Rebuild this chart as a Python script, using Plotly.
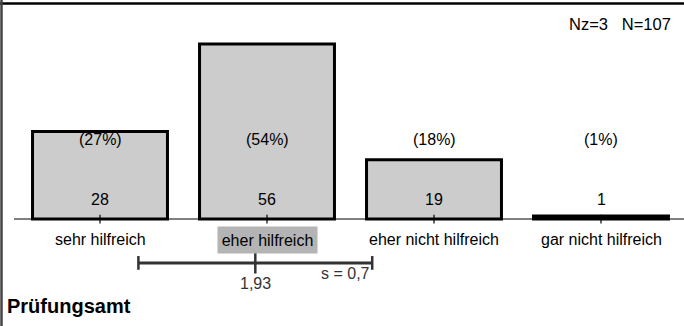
import plotly.graph_objects as go

# Response categories and counts
categories = ["sehr hilfreich", "eher hilfreich", "eher nicht hilfreich", "gar nicht hilfreich"]
counts = [28, 56, 19, 1]
percent_labels = ["(27%)", "(54%)", "(18%)", "(1%)"]
positions = [1, 2, 3, 4]

mean_value = 1.93
std_value = 0.7
mean_label = "1,93"
std_label = "s = 0,7"
n_missing = 3
n_total = 107
title = "Prüfungsamt"

W, H = 684, 326
X_RANGE = [0.4012, 4.497]
Y_RANGE = [-34.24, 70.08]
FAMILY = "Liberation Sans, Arial, sans-serif"

fig = go.Figure()

fig.add_trace(go.Bar(
    x=positions, y=counts, width=0.808,
    marker=dict(color="#cccccc", line=dict(color="black", width=3)),
    hoverinfo="skip",
))

# baseline
fig.add_shape(type="line", xref="x", yref="y", x0=0.485, x1=X_RANGE[1], y0=0, y1=0,
              line=dict(color="black", width=1.2), layer="below")
# category ticks
for p in positions:
    fig.add_shape(type="line", xref="x", yref="y", x0=p, x1=p, y0=-1.4, y1=1.4,
                  line=dict(color="black", width=1.2))

# frame lines
fig.add_shape(type="line", xref="paper", yref="paper", x0=0, x1=1, y0=1 - 3.5 / H, y1=1 - 3.5 / H,
              line=dict(color="black", width=2.5))
fig.add_shape(type="line", xref="paper", yref="paper", x0=1.5 / W, x1=1.5 / W, y0=0, y1=1,
              line=dict(color="#444444", width=2.5))

font = dict(family=FAMILY, size=16, color="black")
grey_font = dict(family=FAMILY, size=16, color="#333333")

for p, c, pl, cat in zip(positions, counts, percent_labels, categories):
    fig.add_annotation(x=p, y=25.3, text=pl, showarrow=False, font=font, xanchor="center", yanchor="middle")
    fig.add_annotation(x=p, y=6.1, text=str(c), showarrow=False, font=font, xanchor="center", yanchor="middle")
    if cat == "eher hilfreich":
        fig.add_annotation(x=p, y=-6.7, text=cat, showarrow=False, font=font, xanchor="center",
                           yanchor="middle", bgcolor="#b4b4b4", width=97, height=24, borderpad=1)
    else:
        fig.add_annotation(x=p, y=-6.7, text=cat, showarrow=False, font=font, xanchor="center",
                           yanchor="middle")

# mean and standard deviation bar
y_sd = -14.05
lo, hi = mean_value - std_value, mean_value + std_value
fig.add_shape(type="line", xref="x", yref="y", x0=lo, x1=hi, y0=y_sd, y1=y_sd,
              line=dict(color="#333333", width=3))
for xv in (lo, hi):
    fig.add_shape(type="line", xref="x", yref="y", x0=xv, x1=xv, y0=y_sd - 2.2, y1=y_sd + 2.2,
                  line=dict(color="#333333", width=2.5))
fig.add_shape(type="line", xref="x", yref="y", x0=mean_value, x1=mean_value, y0=y_sd - 3.4, y1=y_sd + 3.4,
              line=dict(color="#333333", width=2.5))
fig.add_annotation(x=mean_value, y=-20.6, text=mean_label, showarrow=False, font=grey_font,
                   xanchor="center", yanchor="middle")
fig.add_annotation(x=hi, y=-17.5, text=std_label, showarrow=False, font=grey_font,
                   xanchor="right", yanchor="middle")

fig.add_annotation(xref="paper", yref="paper", x=5 / W, y=1 - 306 / H, text=f"<b>{title}</b>",
                   showarrow=False, font=dict(family=FAMILY, size=20, color="black"),
                   xanchor="left", yanchor="middle")
fig.add_annotation(xref="paper", yref="paper", x=673 / W, y=1 - 24 / H,
                   text=f"Nz={n_missing}&nbsp;&nbsp;&nbsp;N={n_total}", showarrow=False,
                   font=dict(family=FAMILY, size=16.5, color="black"),
                   xanchor="right", yanchor="middle")

fig.update_layout(
    width=W, height=H, margin=dict(l=0, r=0, t=0, b=0),
    paper_bgcolor="white", plot_bgcolor="white", showlegend=False,
    xaxis=dict(range=X_RANGE, visible=False, fixedrange=True),
    yaxis=dict(range=Y_RANGE, visible=False, fixedrange=True),
)

fig.write_html("out.html")
